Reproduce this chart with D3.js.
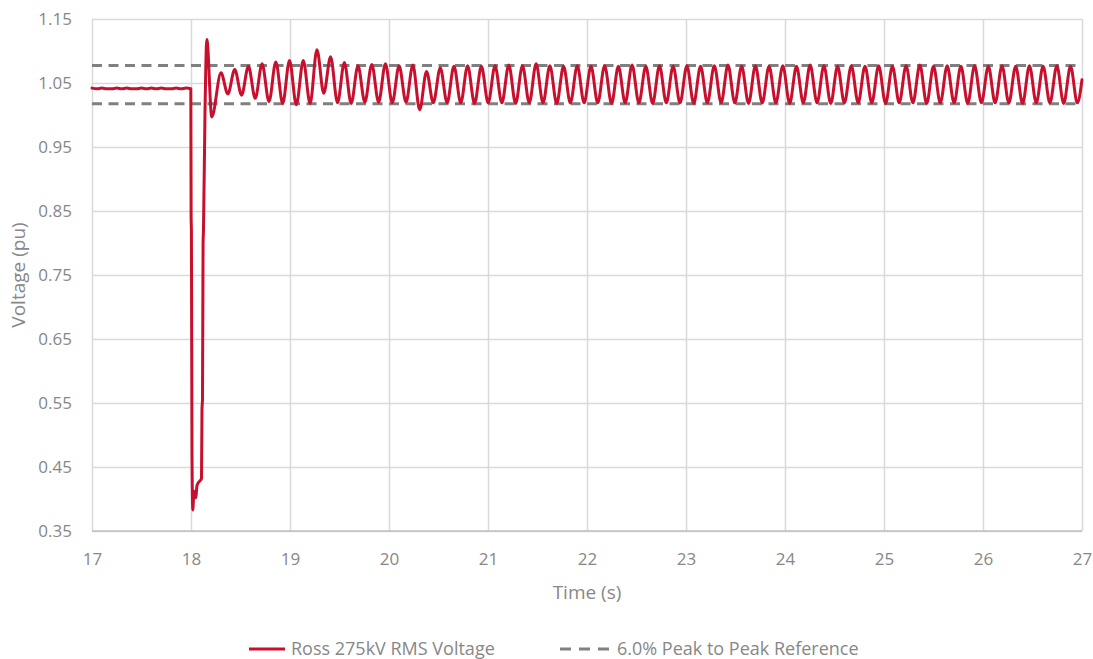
<!DOCTYPE html>
<html>
<head>
<meta charset="utf-8">
<script src="https://cdn.jsdelivr.net/npm/d3@7"></script>
<style>
  body { margin: 0; background: #ffffff; }
  svg text { font-family: "Open Sans", "Noto Sans", sans-serif; }
</style>
</head>
<body>
<svg id="chart" width="1093" height="659"></svg>
<script>
// ---- Data: Ross 275kV RMS voltage (pu) versus time (s) ----
// Steady state before the fault
const tPre = [17.00, 17.05, 17.10, 17.15, 17.20, 17.25, 17.30, 17.35, 17.40, 17.45, 17.50,
              17.55, 17.60, 17.65, 17.70, 17.75, 17.80, 17.85, 17.90, 17.95, 17.998];
const vPre = [1.042, 1.041, 1.042, 1.041, 1.041, 1.042, 1.041, 1.042, 1.041, 1.041, 1.042,
              1.041, 1.042, 1.041, 1.042, 1.041, 1.041, 1.042, 1.041, 1.042, 1.041];

// Fault, clearance and first overshoot
const tFault = [18.001, 18.004, 18.010, 18.018, 18.030, 18.041, 18.050, 18.059, 18.072, 18.088,
                18.106, 18.111, 18.116, 18.122, 18.126, 18.141, 18.160, 18.210];
const vFault = [0.840, 0.820, 0.470, 0.383, 0.412, 0.405, 0.402, 0.420, 0.425, 0.428,
                0.432, 0.540, 0.555, 0.800, 0.820, 1.000, 1.118, 0.997];

// Post-fault oscillation: crest times and values
const tPeak = [18.303, 18.442, 18.580, 18.718, 18.857, 18.995, 19.134, 19.272, 19.410, 19.549,
               19.687, 19.826, 19.964, 20.102, 20.241, 20.379, 20.518,
               20.656, 20.794, 20.933, 21.071, 21.210, 21.348, 21.486, 21.625, 21.763, 21.902,
               22.040, 22.178, 22.317, 22.455, 22.594, 22.732, 22.870, 23.009, 23.147, 23.286,
               23.424, 23.562, 23.701, 23.839, 23.978, 24.116, 24.254, 24.393, 24.531, 24.670,
               24.808, 24.946, 25.085, 25.223, 25.362, 25.500, 25.638, 25.777, 25.915, 26.054,
               26.192, 26.330, 26.469, 26.607, 26.746, 26.884];
const vPeak = [1.066, 1.071, 1.076, 1.080, 1.083, 1.085, 1.085, 1.102, 1.091, 1.082,
               1.077, 1.079, 1.080, 1.077, 1.078, 1.068, 1.074,
               1.076, 1.077, 1.076, 1.077, 1.078, 1.077, 1.080, 1.077, 1.076, 1.077,
               1.076, 1.077, 1.076, 1.078, 1.076, 1.077, 1.076, 1.077, 1.076, 1.077,
               1.078, 1.076, 1.077, 1.076, 1.077, 1.076, 1.078, 1.077, 1.076, 1.077,
               1.076, 1.077, 1.076, 1.077, 1.078, 1.076, 1.077, 1.076, 1.077, 1.076,
               1.077, 1.076, 1.077, 1.076, 1.077, 1.076];

// Post-fault oscillation: trough times and values
const tTrough = [18.372, 18.511, 18.649, 18.788, 18.926, 19.064, 19.203, 19.341, 19.480, 19.618,
                 19.756, 19.895, 20.033, 20.172, 20.310, 20.448, 20.587,
                 20.725, 20.864, 21.002, 21.140, 21.279, 21.417, 21.556, 21.694, 21.832, 21.971,
                 22.109, 22.248, 22.386, 22.524, 22.663, 22.801, 22.940, 23.078, 23.216, 23.355,
                 23.493, 23.632, 23.770, 23.908, 24.047, 24.185, 24.324, 24.462, 24.600, 24.739,
                 24.877, 25.016, 25.154, 25.292, 25.431, 25.569, 25.708, 25.846, 25.984, 26.123,
                 26.261, 26.400, 26.538, 26.676, 26.815, 26.953];
const vTrough = [1.033, 1.031, 1.026, 1.021, 1.018, 1.016, 1.018, 1.034, 1.019, 1.018,
                 1.020, 1.020, 1.019, 1.020, 1.008, 1.019, 1.019,
                 1.019, 1.018, 1.019, 1.019, 1.018, 1.019, 1.019, 1.018, 1.019, 1.019,
                 1.019, 1.018, 1.019, 1.019, 1.018, 1.019, 1.019, 1.018, 1.019, 1.019,
                 1.019, 1.018, 1.019, 1.019, 1.018, 1.019, 1.019, 1.018, 1.019, 1.019,
                 1.019, 1.018, 1.019, 1.019, 1.018, 1.019, 1.019, 1.018, 1.019, 1.019,
                 1.019, 1.018, 1.019, 1.019, 1.018, 1.019];

// Last sample of the run
const tEnd = [27.0];
const vEnd = [1.055];

// Peak-to-peak reference band (6.0 %)
const refLevels = [1.0775, 1.0175];

// Axis ticks and labels
const xTicks = [17, 18, 19, 20, 21, 22, 23, 24, 25, 26, 27];
const yTicks = [0.35, 0.45, 0.55, 0.65, 0.75, 0.85, 0.95, 1.05, 1.15];
const xTitle = "Time (s)";
const yTitle = "Voltage (pu)";
const seriesName = "Ross 275kV RMS Voltage";
const refName = "6.0% Peak to Peak Reference";

// ---- Drawing ----
const plot = { left: 92, right: 1082, top: 19, bottom: 531 };
const red = "#c8102e", dashGrey = "#808080", gridGrey = "#d9d9d9", textGrey = "#878787";

const svg = d3.select("#chart");
const x = d3.scaleLinear().domain([17, 27]).range([plot.left, plot.right]);
const y = d3.scaleLinear().domain([0.35, 1.15]).range([plot.bottom, plot.top]);

// Gridlines + tick labels from the axis generators
const gx = svg.append("g")
  .attr("transform", `translate(0,${plot.bottom})`)
  .call(d3.axisBottom(x).tickValues(xTicks).tickFormat(d3.format("d"))
        .tickSizeInner(-(plot.bottom - plot.top)).tickSizeOuter(0).tickPadding(22));
gx.select(".domain").remove();
gx.selectAll(".tick line").attr("stroke", gridGrey).attr("stroke-width", 1.5);
gx.selectAll(".tick text").attr("fill", textGrey).attr("font-size", 17);

const gy = svg.append("g")
  .attr("transform", `translate(${plot.left},0)`)
  .call(d3.axisLeft(y).tickValues(yTicks).tickFormat(d3.format(".2f"))
        .tickSizeInner(-(plot.right - plot.left)).tickSizeOuter(0).tickPadding(20));
gy.select(".domain").remove();
gy.selectAll(".tick line").attr("stroke", gridGrey).attr("stroke-width", 1.5);
gy.selectAll(".tick text").attr("fill", textGrey).attr("font-size", 17);

// Horizontal axis line
svg.append("line")
  .attr("x1", x(17)).attr("x2", x(27)).attr("y1", y(0.35)).attr("y2", y(0.35))
  .attr("stroke", "#bfbfbf").attr("stroke-width", 1.5);

// Reference band
svg.append("g").selectAll("line").data(refLevels).join("line")
  .attr("x1", x(17)).attr("x2", x(27))
  .attr("y1", d => y(d)).attr("y2", d => y(d))
  .attr("stroke", dashGrey).attr("stroke-width", 3)
  .attr("stroke-dasharray", "10,6.5");

// Voltage trace
const pts = [
  ...d3.zip(tPre, vPre), ...d3.zip(tFault, vFault),
  ...d3.zip(tPeak, vPeak), ...d3.zip(tTrough, vTrough), ...d3.zip(tEnd, vEnd)
].sort((a, b) => a[0] - b[0]);

const line = d3.line().x(d => x(d[0])).y(d => y(d[1])).curve(d3.curveMonotoneX);
svg.append("path").datum(pts)
  .attr("d", line).attr("fill", "none")
  .attr("stroke", red).attr("stroke-width", 3)
  .attr("stroke-linejoin", "round").attr("stroke-linecap", "round");

// Axis titles
svg.append("text").text(xTitle)
  .attr("x", (plot.left + plot.right) / 2).attr("y", 599)
  .attr("text-anchor", "middle").attr("fill", textGrey).attr("font-size", 19);
svg.append("text").text(yTitle)
  .attr("transform", `translate(25,${(plot.top + plot.bottom) / 2}) rotate(-90)`)
  .attr("text-anchor", "middle").attr("fill", textGrey).attr("font-size", 19);

// Legend
const lg = svg.append("g");
lg.append("line").attr("x1", 249).attr("x2", 285).attr("y1", 649).attr("y2", 649)
  .attr("stroke", red).attr("stroke-width", 3);
lg.append("text").text(seriesName).attr("x", 291).attr("y", 655)
  .attr("fill", textGrey).attr("font-size", 18);
lg.append("line").attr("x1", 560).attr("x2", 610).attr("y1", 649).attr("y2", 649)
  .attr("stroke", dashGrey).attr("stroke-width", 3).attr("stroke-dasharray", "11,8");
lg.append("text").text(refName).attr("x", 617).attr("y", 655)
  .attr("fill", textGrey).attr("font-size", 18);
</script>
</body>
</html>
